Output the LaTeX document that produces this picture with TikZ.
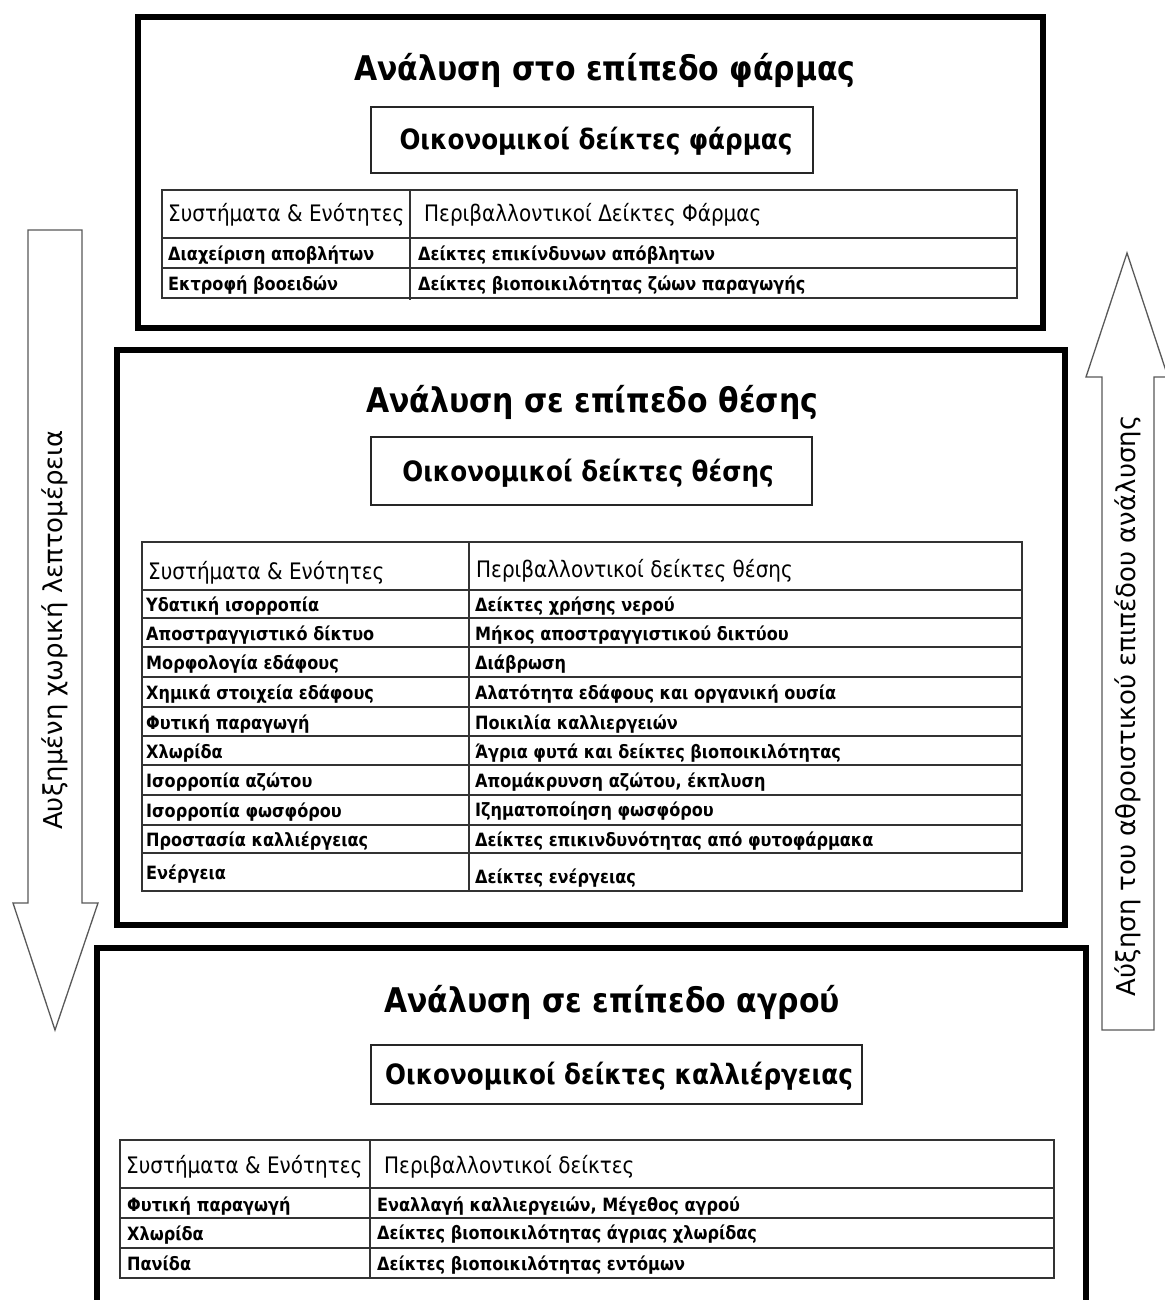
\documentclass[tikz,border=0pt]{standalone}
\usepackage{fontspec}
\setmainfont{DejaVu Sans}[FakeStretch=0.88]
\newfontfamily\widefont{DejaVu Sans}
\begin{document}
\begin{tikzpicture}[x=1pt,y=-1pt,
 bigbox/.style={line width=5.5pt, draw=black},
 smallbox/.style={line width=1.8pt, draw=black!85},
 tline/.style={line width=1.6pt, draw=black!80},
 arrowshape/.style={draw=black!65, line width=1.3pt, fill=white, line join=miter},
 title/.style={font=\fontsize{34}{38}\selectfont\bfseries, anchor=base, inner sep=0},
 eco/.style={font=\fontsize{28}{31}\selectfont\bfseries, anchor=base, inner sep=0},
 head/.style={font=\fontsize{22.7}{25}\selectfont, anchor=base west, inner sep=0},
 cell/.style={font=\fontsize{18.3}{20}\selectfont\bfseries, anchor=base west, inner sep=0},
 arrtext/.style={font=\widefont\fontsize{26}{29}\selectfont, rotate=90, inner sep=0}
]
\useasboundingbox (0,0) rectangle (1164,1300);
\fill[white] (0,0) rectangle (1164,1300);

% arrows
\draw[arrowshape] (28,230) -- (82,230) -- (82,903) -- (98,903) -- (55,1030) -- (13,903) -- (28,903) -- cycle;
\node[arrtext] (la) at (55,630) {Αυξημένη χωρική λεπτομέρεια};
\draw[arrowshape] (1102,1030) -- (1154,1030) -- (1154,377) -- (1168,377) -- (1127,253) -- (1086,377) -- (1102,377) -- cycle;
\node[arrtext] (ra) at (1128,706) {Αύξηση του αθροιστικού επιπέδου ανάλυσης};

% big boxes
\draw[bigbox] (138,17) rectangle (1043,328);
\draw[bigbox] (117,350) rectangle (1065,925);
\draw[bigbox] (97,1320) -- (97,948) -- (1086,948) -- (1086,1320);

% titles
\node[title] (t1) at (605,81) {Ανάλυση στο επίπεδο φάρμας};
\node[title] (t2) at (592,412) {Ανάλυση σε επίπεδο θέσης};
\node[title] (t3) at (612,1012) {Ανάλυση σε επίπεδο αγρού};

% economic boxes
\draw[smallbox] (371,107) rectangle (813,173);
\node[eco] (e1) at (596,150) {Οικονομικοί δείκτες φάρμας};
\draw[smallbox] (371,437) rectangle (812,505);
\node[eco] (e2) at (588,481) {Οικονομικοί δείκτες θέσης};
\draw[smallbox] (371,1045) rectangle (862,1104);
\node[eco] (e3) at (619,1084) {Οικονομικοί δείκτες καλλιέργειας};

% top table
\draw[tline] (162,190) rectangle (1017,298);
\draw[tline] (162,238) -- (1017,238);
\draw[tline] (162,268) -- (1017,268);
\draw[tline] (410,190) -- (410,300);
\node[head] (a0) at (168,222) {Συστήματα \& Ενότητες};
\node[head] (b0) at (424,222) {Περιβαλλοντικοί Δείκτες Φάρμας};
\node[cell] (a1) at (168,260) {Διαχείριση αποβλήτων};
\node[cell] (b1) at (418,260) {Δείκτες επικίνδυνων απόβλητων};
\node[cell] (a2) at (168,290) {Εκτροφή βοοειδών};
\node[cell] (b2) at (418,290) {Δείκτες βιοποικιλότητας ζώων παραγωγής};

% middle table
\draw[tline] (142,542) rectangle (1022,891);
\foreach \yy in {590,618,647,677,707,736,765,795,825,853}
  \draw[tline] (142,\yy) -- (1022,\yy);
\draw[tline] (469,542) -- (469,891);
\node[head] (c0) at (148,579) {Συστήματα \& Ενότητες};
\node[head] (d0) at (476,577) {Περιβαλλοντικοί δείκτες θέσης};
\node[cell] (c1) at (146,611) {Υδατική ισορροπία};
\node[cell] (d1) at (475,611) {Δείκτες χρήσης νερού};
\node[cell] (c2) at (146,640) {Αποστραγγιστικό δίκτυο};
\node[cell] (d2) at (475,640) {Μήκος αποστραγγιστικού δικτύου};
\node[cell] (c3) at (146,669) {Μορφολογία εδάφους};
\node[cell] (d3) at (475,669) {Διάβρωση};
\node[cell] (c4) at (146,699) {Χημικά στοιχεία εδάφους};
\node[cell] (d4) at (475,699) {Αλατότητα εδάφους και οργανική ουσία};
\node[cell] (c5) at (146,729) {Φυτική παραγωγή};
\node[cell] (d5) at (475,729) {Ποικιλία καλλιεργειών};
\node[cell] (c6) at (146,758) {Χλωρίδα};
\node[cell] (d6) at (475,758) {Άγρια φυτά και δείκτες βιοποικιλότητας};
\node[cell] (c7) at (146,787) {Ισορροπία αζώτου};
\node[cell] (d7) at (475,787) {Απομάκρυνση αζώτου, έκπλυση};
\node[cell] (c8) at (146,817) {Ισορροπία φωσφόρου};
\node[cell] (d8) at (475,816) {Ιζηματοποίηση φωσφόρου};
\node[cell] (c9) at (146,846) {Προστασία καλλιέργειας};
\node[cell] (d9) at (475,846) {Δείκτες επικινδυνότητας από φυτοφάρμακα};
\node[cell] (c10) at (146,879) {Ενέργεια};
\node[cell] (d10) at (475,883) {Δείκτες ενέργειας};

% bottom table
\draw[tline] (120,1140) rectangle (1054,1278);
\draw[tline] (120,1188) -- (1054,1188);
\draw[tline] (120,1218) -- (1054,1218);
\draw[tline] (120,1248) -- (1054,1248);
\draw[tline] (370,1140) -- (370,1278);
\node[head] (g0) at (126,1173) {Συστήματα \& Ενότητες};
\node[head] (h0) at (384,1173) {Περιβαλλοντικοί δείκτες};
\node[cell] (g1) at (127,1211) {Φυτική παραγωγή};
\node[cell] (h1) at (377,1211) {Εναλλαγή καλλιεργειών, Μέγεθος αγρού};
\node[cell] (g2) at (127,1240) {Χλωρίδα};
\node[cell] (h2) at (377,1239) {Δείκτες βιοποικιλότητας άγριας χλωρίδας};
\node[cell] (g3) at (127,1270) {Πανίδα};
\node[cell] (h3) at (377,1270) {Δείκτες βιοποικιλότητας εντόμων};
\end{tikzpicture}
\end{document}
